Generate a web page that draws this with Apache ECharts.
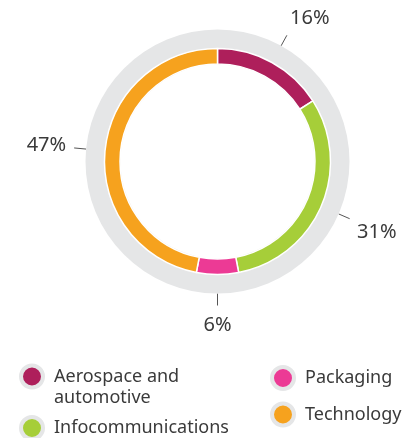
<!DOCTYPE html>
<html>
<head>
<meta charset="utf-8">
<script src="https://cdn.jsdelivr.net/npm/echarts@6/dist/echarts.min.js"></script>
<style>
html,body{margin:0;padding:0;background:#fff;}
#chart{width:414px;height:438px;}
</style>
</head>
<body>
<div id="chart"></div>
<script>
const categories = ['Aerospace and automotive', 'Infocommunications', 'Packaging', 'Technology'];
const values = [16, 31, 6, 47];
const colors = ['#ae1f5b', '#a6ce39', '#ec3a95', '#f6a21e'];
const ringGray = '#e5e6e7';
const textColor = '#3a3a3a';
const FONT = '"Noto Sans", "Open Sans", sans-serif';

const pieData = categories.map((name, i) => ({ name: name, value: values[i], itemStyle: { color: colors[i] } }));
const labelData = categories.map((name, i) => ({ name: name, value: values[i] }));

const chart = echarts.init(document.getElementById('chart'), null, { renderer: 'canvas' });
const CENTER = [217.5, 161.5];

function legendCommon(extra) {
  return Object.assign({
    orient: 'vertical',
    padding: 0,
    itemWidth: 22,
    itemHeight: 22,
    icon: 'circle',
    selectedMode: false,
    itemStyle: { borderColor: ringGray, borderWidth: 4 },
    textStyle: { fontFamily: FONT, fontSize: 18, color: textColor, lineHeight: 21, padding: [0, 0, 0, 6] }
  }, extra);
}

chart.setOption({
  animation: false,
  backgroundColor: '#fff',
  legend: [
    legendCommon({
      left: 19, top: 345,
      data: [categories[0]],
      formatter: n => ' \n' + n.replace('Aerospace and ', 'Aerospace and\n')
    }),
    legendCommon({ left: 19, top: 415, data: [categories[1]] }),
    legendCommon({ left: 270, top: 365, itemGap: 10.5, data: [categories[2], categories[3]] })
  ],
  series: [
    {
      type: 'pie', silent: true, center: CENTER, radius: [97, 132],
      label: { show: false }, labelLine: { show: false },
      data: [{ value: 1, name: 'ring', itemStyle: { color: ringGray } }]
    },
    {
      type: 'pie', center: CENTER, radius: [97.5, 113], startAngle: 90, clockwise: true,
      silent: true,
      itemStyle: { borderColor: '#ffffff', borderWidth: 1.5 },
      label: { show: false }, labelLine: { show: false },
      data: pieData
    },
    {
      type: 'pie', center: CENTER, radius: [97, 132], startAngle: 90, clockwise: true,
      silent: true,
      itemStyle: { color: 'rgba(0,0,0,0)', borderWidth: 0 },
      label: {
        show: true, position: 'outside', formatter: '{c}%',
        fontFamily: FONT, fontSize: 20, color: textColor
      },
      labelLine: { show: true, length: 12, length2: 0, lineStyle: { color: '#555', width: 1 } },
      labelLayout: function (p) {
        const pts = p.labelLinePoints;
        if (!pts) return {};
        const a = pts[0], b = pts[1];
        let dx = b[0] - a[0], dy = b[1] - a[1];
        const len = Math.sqrt(dx * dx + dy * dy) || 1;
        dx /= len; dy /= len;
        const w = p.labelRect.width, h = p.labelRect.height;
        const s = t => Math.max(-1, Math.min(1, t * 2));
        const g = 8;
        return {
          x: b[0] + dx * g + s(dx) * w / 2,
          y: b[1] + dy * g + s(dy) * h / 2 + (dy > 0 ? 2 : 0),
          align: 'center', verticalAlign: 'middle',
          labelLinePoints: [a, b]
        };
      },
      data: labelData
    }
  ]
});
</script>
</body>
</html>
